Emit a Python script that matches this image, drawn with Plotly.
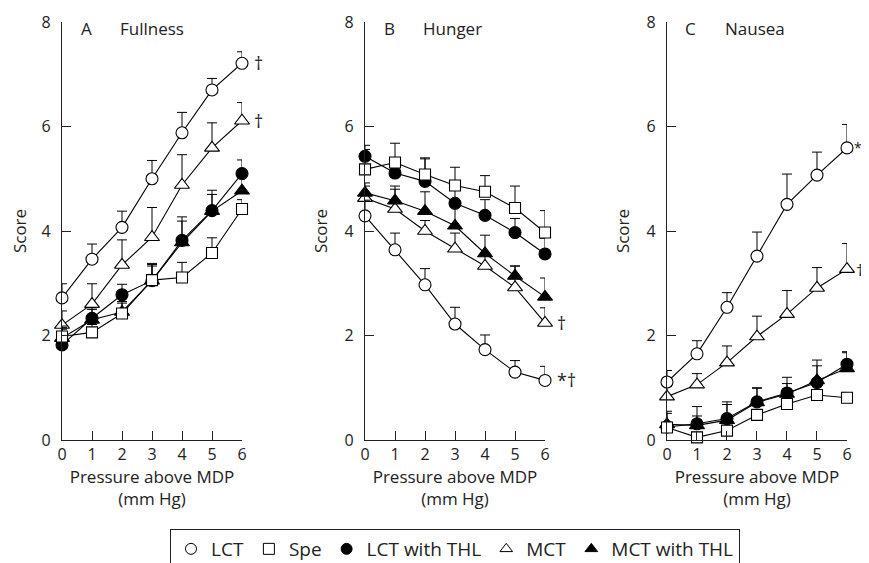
import plotly.graph_objects as go

pressure = [0, 1, 2, 3, 4, 5, 6]
series_names = ["LCT", "Spe", "LCT with THL", "MCT", "MCT with THL"]

# Fullness
full_lct = [2.72, 3.46, 4.07, 5.00, 5.88, 6.70, 7.21]
full_lct_err = [0.27, 0.29, 0.31, 0.35, 0.39, 0.22, 0.22]
full_spe = [1.98, 2.06, 2.42, 3.06, 3.11, 3.58, 4.42]
full_spe_err = [0.20, 0.15, 0.20, 0.30, 0.29, 0.29, 0.18]
full_lct_thl = [1.82, 2.33, 2.78, 3.05, 3.82, 4.39, 5.10]
full_lct_thl_err = [0.30, 0.20, 0.20, 0.33, 0.45, 0.39, 0.26]
full_mct = [2.20, 2.60, 3.35, 3.88, 4.88, 5.59, 6.11]
full_mct_err = [0.27, 0.39, 0.48, 0.57, 0.58, 0.48, 0.35]
full_mct_thl = [1.95, 2.30, 2.45, 3.05, 3.78, 4.38, 4.77]
full_mct_thl_err = [0.20, 0.20, 0.20, 0.28, 0.41, 0.32, 0.30]

# Hunger
hung_lct = [4.29, 3.64, 2.97, 2.22, 1.73, 1.30, 1.14]
hung_lct_err = [0.30, 0.32, 0.31, 0.32, 0.28, 0.22, 0.27]
hung_spe = [5.18, 5.31, 5.08, 4.87, 4.75, 4.44, 3.97]
hung_spe_err = [0.38, 0.37, 0.30, 0.35, 0.31, 0.42, 0.42]
hung_lct_thl = [5.43, 5.11, 4.95, 4.53, 4.30, 3.97, 3.56]
hung_lct_thl_err = [0.21, 0.25, 0.45, 0.30, 0.30, 0.27, 0.30]
hung_mct = [4.63, 4.42, 4.00, 3.66, 3.33, 2.92, 2.24]
hung_mct_err = [0.23, 0.38, 0.20, 0.30, 0.25, 0.41, 0.29]
hung_mct_thl = [4.73, 4.58, 4.38, 4.10, 3.57, 3.14, 2.74]
hung_mct_thl_err = [0.19, 0.28, 0.37, 0.40, 0.35, 0.19, 0.36]

# Nausea
naus_lct = [1.11, 1.65, 2.54, 3.52, 4.51, 5.07, 5.59]
naus_lct_err = [0.22, 0.25, 0.28, 0.46, 0.58, 0.44, 0.45]
naus_spe = [0.24, 0.05, 0.18, 0.48, 0.69, 0.86, 0.81]
naus_spe_err = [0.10, 0.10, 0.10, 0.10, 0.10, 0.10, 0.10]
naus_lct_thl = [0.25, 0.31, 0.41, 0.73, 0.90, 1.10, 1.45]
naus_lct_thl_err = [0.30, 0.33, 0.32, 0.27, 0.30, 0.43, 0.24]
naus_mct = [0.83, 1.06, 1.48, 1.98, 2.41, 2.91, 3.27]
naus_mct_err = [0.20, 0.21, 0.32, 0.39, 0.45, 0.39, 0.49]
naus_mct_thl = [0.30, 0.28, 0.38, 0.72, 0.88, 1.14, 1.37]
naus_mct_thl_err = [0.21, 0.18, 0.30, 0.27, 0.20, 0.28, 0.30]

panel_letters = ["A", "B", "C"]
panel_titles = ["Fullness", "Hunger", "Nausea"]
y_ticks = [0, 2, 4, 6, 8]
x_ticks = [0, 1, 2, 3, 4, 5, 6]

# significance marks: (panel index, series, text)
sig_marks = [
    (0, "LCT", "†"), (0, "MCT", "†"),
    (1, "MCT", "†"), (1, "LCT", "*†"),
    (2, "LCT", "*†"), (2, "MCT", "†"),
]

panels = [
    {"LCT": (full_lct, full_lct_err), "Spe": (full_spe, full_spe_err),
     "LCT with THL": (full_lct_thl, full_lct_thl_err), "MCT": (full_mct, full_mct_err),
     "MCT with THL": (full_mct_thl, full_mct_thl_err)},
    {"LCT": (hung_lct, hung_lct_err), "Spe": (hung_spe, hung_spe_err),
     "LCT with THL": (hung_lct_thl, hung_lct_thl_err), "MCT": (hung_mct, hung_mct_err),
     "MCT with THL": (hung_mct_thl, hung_mct_thl_err)},
    {"LCT": (naus_lct, naus_lct_err), "Spe": (naus_spe, naus_spe_err),
     "LCT with THL": (naus_lct_thl, naus_lct_thl_err), "MCT": (naus_mct, naus_mct_err),
     "MCT with THL": (naus_mct_thl, naus_mct_thl_err)},
]

INK = "#222222"
FONT = "Open Sans"
styles = {
    "LCT": dict(symbol="circle", color="white", size=12),
    "Spe": dict(symbol="square", color="white", size=11),
    "LCT with THL": dict(symbol="circle", color="black", size=12),
    "MCT": dict(symbol="triangle-up", color="white", size=13),
    "MCT with THL": dict(symbol="triangle-up", color="black", size=13),
}
draw_order = ["MCT", "MCT with THL", "LCT with THL", "Spe", "LCT"]

fig = go.Figure()
for i, panel in enumerate(panels):
    xa = "x" if i == 0 else f"x{i+1}"
    ya = "y" if i == 0 else f"y{i+1}"
    for name in draw_order:
        vals, errs = panel[name]
        st = styles[name]
        fig.add_trace(go.Scatter(
            x=pressure, y=vals, xaxis=xa, yaxis=ya, mode="lines+markers",
            showlegend=False, cliponaxis=False,
            line=dict(color="black", width=1.1),
            marker=dict(symbol=st["symbol"], size=st["size"], color=st["color"],
                        line=dict(color="black", width=1.1)),
            error_y=dict(type="data", symmetric=False, array=errs,
                         arrayminus=[0] * len(errs), color="black",
                         thickness=1, width=5),
        ))

for name in series_names:
    st = styles[name]
    fig.add_trace(go.Scatter(
        x=[None], y=[None], mode="markers", name=name, showlegend=True,
        marker=dict(symbol=st["symbol"], size=11, color=st["color"],
                    line=dict(color="black", width=1)),
    ))

W, H = 869, 563
domains = [(0.0, 0.2293), (0.386, 0.6153), (0.7707, 1.0)]
layout = dict(
    width=W, height=H,
    margin=dict(l=54, r=30, t=14, b=131, autoexpand=False),
    paper_bgcolor="white", plot_bgcolor="white",
    font=dict(family=FONT, color=INK, size=16),
    legend=dict(orientation="h", xref="container", yref="container",
                x=447 / W, xanchor="center", y=1 - 521 / H, yanchor="top",
                bordercolor=INK, borderwidth=1, font=dict(size=19, color=INK),
                itemwidth=30, tracegroupgap=0),
)
annotations = []
for i in range(3):
    sx = "" if i == 0 else str(i + 1)
    layout[f"xaxis{sx}"] = dict(
        domain=list(domains[i]), anchor=f"y{sx}", range=[0, 6], automargin=False,
        tickvals=x_ticks, ticks="inside", ticklen=9, tickcolor=INK,
        showline=True, linecolor=INK, linewidth=1.1, showgrid=False, zeroline=False,
        tickfont=dict(size=16, color=INK),
        title=dict(text="Pressure above MDP<br>(mm Hg)", font=dict(size=17, color=INK), standoff=4),
    )
    layout[f"yaxis{sx}"] = dict(
        domain=[0, 1], anchor=f"x{sx}", range=[0, 8], automargin=False,
        tickvals=y_ticks, ticks="inside", ticklen=9, tickcolor=INK,
        showline=True, linecolor=INK, linewidth=1.1, showgrid=False, zeroline=False,
        tickfont=dict(size=16, color=INK), ticklabelstandoff=7,
        title=dict(text="Score", font=dict(size=17, color=INK), standoff=12),
    )
    annotations.append(dict(x=0.55, y=7.88, xref=f"x{sx}", yref=f"y{sx}", text=panel_letters[i],
                            showarrow=False, xanchor="left", yanchor="middle",
                            font=dict(size=17, color=INK)))
    annotations.append(dict(x=1.88, y=7.88, xref=f"x{sx}", yref=f"y{sx}", text=panel_titles[i],
                            showarrow=False, xanchor="left", yanchor="middle",
                            font=dict(size=17, color=INK)))

for pi, name, txt in sig_marks:
    sx = "" if pi == 0 else str(pi + 1)
    vals, _ = panels[pi][name]
    if pi == 2:
        shift, fsize = (5, 14) if txt == "*†" else (7, 17)
    else:
        shift, fsize = 10, 18
    annotations.append(dict(x=pressure[-1], y=vals[-1], xref=f"x{sx}", yref=f"y{sx}", text=txt,
                            showarrow=False, xanchor="left", yanchor="middle",
                            xshift=shift, font=dict(size=fsize, color=INK)))

layout["annotations"] = annotations
fig.update_layout(**layout)
fig.write_html("out.html")
